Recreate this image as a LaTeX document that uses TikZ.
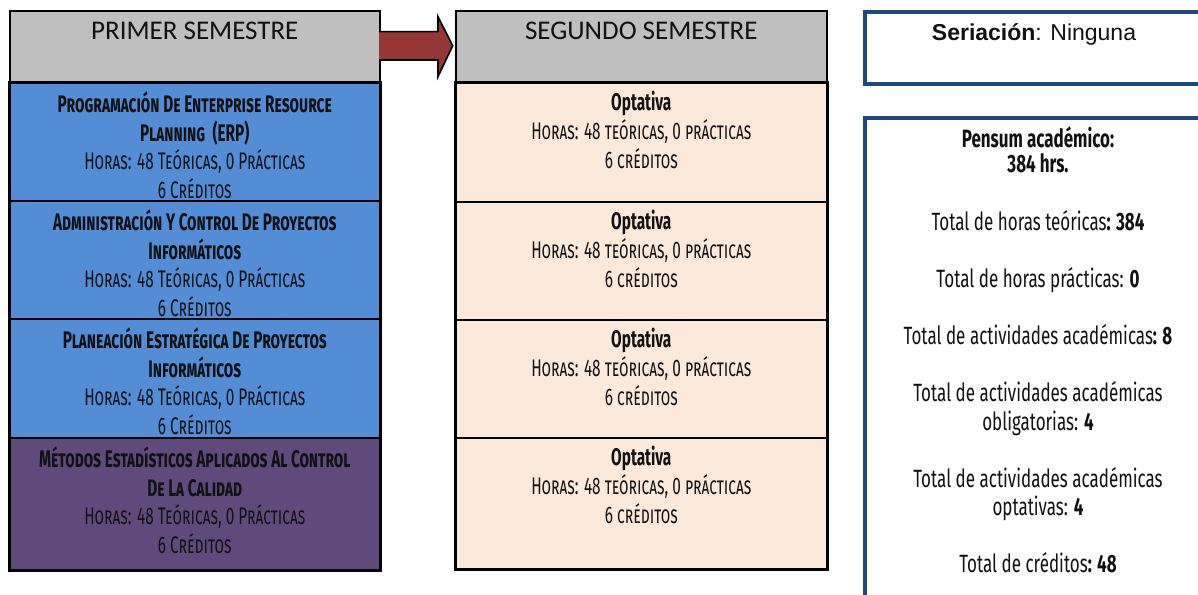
\documentclass[tikz,border=0pt]{standalone}
\usepackage{fontspec}
\setmainfont{Carlito}
\newfontfamily\agency[FakeStretch=0.64]{Fira Sans}
\newfontfamily\agencyp[FakeStretch=0.68]{Fira Sans}
\newfontfamily\arialf{Liberation Sans}
\definecolor{hdrgray}{HTML}{BFBFBF}
\definecolor{blueA}{HTML}{538DD5}
\definecolor{purpA}{HTML}{604A7B}
\definecolor{peach}{HTML}{FDE9D9}
\definecolor{arrowred}{HTML}{953735}
\definecolor{panelblue}{HTML}{1F497D}
\definecolor{txt}{HTML}{111111}
\begin{document}
\begin{tikzpicture}[x=1pt,y=-1pt,
  cellbox/.style={draw=black, line width=1.6pt, anchor=north west, inner sep=0pt, minimum width=#1},
  hdrbox/.style={cellbox=#1, fill=hdrgray, minimum height=72pt},
  hdrtext/.style={anchor=north, inner sep=0pt, font=\fontsize{27}{32}\selectfont, text=txt},
  course/.style={anchor=north, inner sep=0pt, align=center, text=txt, font=\agency\fontsize{24}{28.5}\selectfont\scshape},
  opt/.style={anchor=north, inner sep=0pt, align=center, text=txt, font=\agency\fontsize{24}{29}\selectfont},
  panel/.style={draw=panelblue, line width=4pt},
  paneltext/.style={anchor=north, inner sep=0pt, align=center, text=txt, font=\agencyp\fontsize{25}{28.5}\selectfont}
]
\useasboundingbox (0,0) rectangle (1198,594);
% ---------- first semester ----------
\node[hdrbox=370pt] (h1) at (9,10) {};
\node[hdrtext] (h1t) at ([yshift=-12pt]h1.north) {PRIMER SEMESTRE};
\node[cellbox=370pt, fill=blueA, minimum height=118pt] (a1) at (9,82) {};
\node[cellbox=370pt, fill=blueA, minimum height=118pt] (a2) at (9,200) {};
\node[cellbox=370pt, fill=blueA, minimum height=119pt] (a3) at (9,318) {};
\node[cellbox=370pt, fill=purpA, minimum height=132pt] (a4) at (9,437) {};
\draw[line width=2.4pt] (a1.north west) rectangle (a4.south east);
\node[course] (a1t) at ([yshift=-10pt]a1.north) {\textbf{Programación De Enterprise Resource}\\\textbf{Planning\ \ (ERP)}\\Horas: 48 Teóricas, 0 Prácticas\\6 Créditos};
\node[course] (a2t) at ([yshift=-10pt]a2.north) {\textbf{Administración Y Control De Proyectos}\\\textbf{Informáticos}\\Horas: 48 Teóricas, 0 Prácticas\\6 Créditos};
\node[course] (a3t) at ([yshift=-10pt]a3.north) {\textbf{Planeación Estratégica De Proyectos}\\\textbf{Informáticos}\\Horas: 48 Teóricas, 0 Prácticas\\6 Créditos};
\node[course] (a4t) at ([yshift=-10pt]a4.north) {\textbf{Métodos Estadísticos Aplicados Al Control}\\\textbf{De La Calidad}\\Horas: 48 Teóricas, 0 Prácticas\\6 Créditos};
% ---------- arrow ----------
\draw[fill=arrowred, draw=black, line width=1.6pt, line join=miter]
  (379,31.7) -- (438,31.7) -- (438,16.7) -- (452.7,45.7) -- (438,76.7) -- (438,60) -- (379,60);
% ---------- second semester ----------
\node[hdrbox=371pt] (h2) at (455,10) {};
\node[hdrtext] (h2t) at ([yshift=-12pt]h2.north) {SEGUNDO SEMESTRE};
\node[cellbox=371pt, fill=peach, minimum height=119pt] (b1) at (455,82) {};
\node[cellbox=371pt, fill=peach, minimum height=118pt] (b2) at (455,201) {};
\node[cellbox=371pt, fill=peach, minimum height=118pt] (b3) at (455,319) {};
\node[cellbox=371pt, fill=peach, minimum height=131pt] (b4) at (455,437) {};
\draw[line width=2.4pt] (b1.north west) rectangle (b4.south east);
\foreach \c in {b1,b2,b3,b4}{
  \node[opt] (\c t) at ([yshift=-9pt]\c.north) {\textbf{Optativa}\\{\scshape Horas: 48 teóricas, 0 prácticas}\\{\scshape 6 créditos}};
}
% ---------- right panel ----------
\coordinate (s1) at (1200,12);
\coordinate (s2) at (865,12);
\coordinate (s3) at (865,84);
\coordinate (s4) at (1200,84);
\draw[panel] (s1) -- (s2) -- (s3) -- (s4);
\node[anchor=north, inner sep=0pt, text=txt, font=\arialf\fontsize{23}{27}\selectfont] (ser) at (1034,23) {\textbf{Seriación}: Ninguna};
\coordinate (p1) at (1200,118);
\coordinate (p2) at (865,118);
\coordinate (p3) at (865,600);
\draw[panel] (p1) -- (p2) -- (p3);
\node[paneltext] (pt) at (1038,126) {\textbf{Pensum académico:}\\[-3pt]\textbf{384 hrs.}\\[29.5pt]
Total de horas teóricas\textbf{: 384}\\[28.5pt]
Total de horas prácticas: \textbf{0}\\[28.5pt]
Total de actividades académicas\textbf{: 8}\\[28.5pt]
Total de actividades académicas\\obligatorias: \textbf{4}\\[28.5pt]
Total de actividades académicas\\optativas: \textbf{4}\\[28.5pt]
Total de créditos\textbf{: 48}};
\end{tikzpicture}
\end{document}
